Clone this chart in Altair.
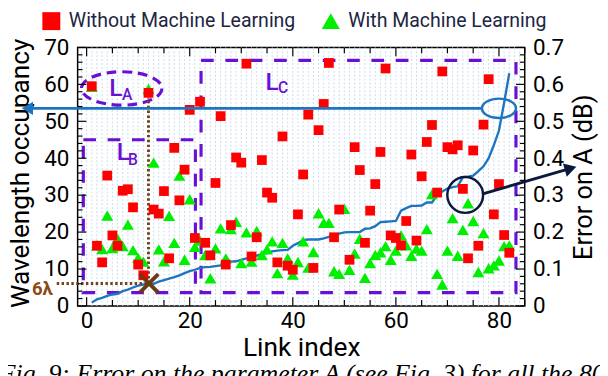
import altair as alt
import pandas as pd

# ---------------- data ----------------
link_without = list(range(1, 50)) + list(range(51, 83))
occ_without = [59.5, 16.3, 11.8, 35.3, 19.1, 16.3, 31.2, 31.6, 26.7, 11.2,
               8.3, 57.7, 26.1, 25.0, 31.1, 12.9, 42.8, 28.6, 36.9, 53.1,
               18.4, 55.3, 17.1, 13.7, 33.3, 51.4, 11.2, 21.9, 40.2, 38.8,
               65.6, 13.4, 18.6, 39.5, 30.7, 29.3, 11.8, 45.9, 10.9, 9.8,
               24.8, 35.6, 51.8, 10.3, 47.6, 54.7, 65.8, 18.6, 26.1,
               12.5, 43.0, 36.8, 17.1, 25.8, 33.0, 41.7, 64.3, 19.1, 18.4,
               16.4, 23.0, 41.0, 17.7, 35.1, 44.4, 49.0, 30.7, 63.5, 43.0,
               42.4, 43.5, 31.7, 12.9, 42.1, 16.3, 49.1, 61.4, 24.8, 33.0,
               19.2, 14.4]
link_with = list(range(1, 83))
occ_with = [59.3, 16.5, 15.4, 24.5, 15.7, 18.2, 16.2, 22.0, 15.1, 13.0,
            12.0, 58.8, 38.8, 15.3, 12.1, 24.4, 17.1, 35.3, 12.5, 28.9,
            16.0, 17.7, 13.8, 7.5, 15.6, 21.0, 12.9, 20.8, 22.8, 11.6,
            19.9, 12.0, 20.3, 13.8, 15.3, 17.5, 8.9, 17.1, 12.9, 8.5,
            11.9, 17.5, 10.4, 14.6, 25.1, 22.5, 22.5, 9.4, 8.7, 26.3,
            9.8, 14.2, 18.2, 7.6, 11.6, 13.8, 14.5, 16.2, 12.5, 15.0,
            19.1, 16.4, 13.6, 15.5, 15.0, 20.8, 30.3, 8.7, 5.8, 15.0,
            23.8, 13.6, 20.6, 27.8, 23.0, 9.2, 19.7, 10.2, 11.0, 12.3,
            16.2, 16.4]
link_error = list(range(1, 83))
error_db = [0.009, 0.018, 0.022, 0.027, 0.031, 0.033, 0.040, 0.044, 0.050, 0.055,
            0.058, 0.059, 0.060, 0.066, 0.070, 0.074, 0.078, 0.083, 0.089, 0.094,
            0.098, 0.103, 0.105, 0.106, 0.108, 0.110, 0.119, 0.120, 0.121, 0.125,
            0.129, 0.132, 0.136, 0.140, 0.144, 0.148, 0.150, 0.151, 0.152, 0.163,
            0.170, 0.178, 0.180, 0.180, 0.180, 0.183, 0.187, 0.192, 0.196, 0.199,
            0.200, 0.200, 0.200, 0.209, 0.210, 0.216, 0.227, 0.228, 0.229, 0.230,
            0.258, 0.265, 0.271, 0.271, 0.272, 0.280, 0.280, 0.300, 0.310, 0.318,
            0.322, 0.324, 0.349, 0.350, 0.353, 0.365, 0.378, 0.400, 0.435, 0.475,
            0.550, 0.630]

series_names = ["Without Machine Learning", "With Machine Learning"]
x_tick_labels = [0, 20, 40, 60, 80]
y_tick_labels = [0, 10, 20, 30, 40, 50, 60, 70]
y2_tick_labels = [0, 0.1, 0.2, 0.3, 0.4, 0.5, 0.6, 0.7]
caption_text = "Fig. 9: Error on the parameter A (see Fig. 3) for all the 80"

# annotation geometry (data units)
boxes = pd.DataFrame({"name": ["LB", "LC"], "x1": [-0.64, 22.2], "x2": [21.1, 83.3],
                      "y1": [3.6, 3.6], "y2": [45.0, 66.5]})
labels_L = pd.DataFrame({"x": [5.66, 7.1, 36.0], "y": [59.0, 41.5, 60.6], "t": ["L", "L", "L"]})
labels_sub = pd.DataFrame({"x": [7.85, 9.0, 38.1], "y": [57.0, 39.5, 59.0], "t": ["A", "B", "C"]})

# ---------------- layout ----------------
W, H = 459.2, 265.5
PURPLE = "#6a0fd4"
BLUE = "#1f74c0"
NAVY = "#0b1a3c"
BROWN = "#74431a"
FONT = "Roboto"

xs = alt.Scale(domain=[-1.75, 85], nice=False, zero=False)
ys = alt.Scale(domain=[0, 70], nice=False, zero=False)
ys2 = alt.Scale(domain=[0, 0.7], nice=False, zero=False)

axis_x = alt.Axis(values=x_tick_labels, ticks=False, domain=False, grid=False,
                  labelFont=FONT, labelFontSize=23, labelColor="black", labelPadding=4,
                  title="Link index", titleFont=FONT, titleFontSize=27, titleFontWeight="normal",
                  titleColor="black", titleX=W / 2, titleY=43, titleAlign="center",
                  titleBaseline="middle")
axis_y = alt.Axis(values=y_tick_labels, ticks=False, domain=False, grid=False, orient="left",
                  labelFont=FONT, labelFontSize=23, labelColor="black", labelPadding=9,
                  title="Wavelength occupancy", titleFont=FONT, titleFontSize=27,
                  titleFontWeight="normal", titleColor="black", titleX=-58, titleY=H / 2 - 4,
                  titleAngle=270, titleAlign="center", titleBaseline="middle")
axis_y2 = alt.Axis(values=y2_tick_labels, ticks=False, domain=False, grid=False, orient="right",
                   labelExpr="datum.value == 0 ? '0' : format(datum.value, '.1f')",
                   labelFont=FONT, labelFontSize=23, labelColor="black", labelPadding=8,
                   title="Error on A (dB)", titleFont=FONT, titleFontSize=26,
                   titleFontWeight="normal", titleColor="black", titleX=61, titleY=H / 2,
                   titleAngle=270, titleAlign="center", titleBaseline="middle")

def X(f):
    return alt.X(f, type="quantitative", scale=xs, axis=axis_x)

def Y(f, axis=axis_y):
    return alt.Y(f, type="quantitative", scale=ys, axis=axis)

# ---------------- bottom group: grid + boxes ----------------
grid = alt.Chart(pd.DataFrame({"g": list(range(-1, 85))})).mark_rule(
    color="#c4dcf1", strokeWidth=1, strokeDash=[2, 2]
).encode(x=X("g"), y=alt.value(0), y2=alt.value(H))

box_layer = alt.Chart(boxes).mark_rect(
    filled=False, stroke=PURPLE, strokeWidth=3.2, strokeDash=[13, 12]
).encode(x=X("x1"), x2="x2", y=Y("y1", None), y2="y2")

bottom = alt.layer(grid, box_layer)

# ---------------- error line (right axis) ----------------
err_df = pd.DataFrame({"link": link_error, "err": error_db})
err_line = alt.Chart(err_df).mark_line(color=BLUE, strokeWidth=2.4).encode(
    x=X("link"), y=alt.Y("err:Q", scale=ys2, axis=axis_y2))

# ---------------- top group ----------------
pts = pd.DataFrame({
    "link": link_with + link_without,
    "occ": occ_with + occ_without,
    "series": [series_names[1]] * len(link_with) + [series_names[0]] * len(link_without),
})
legend = alt.Legend(orient="none", legendX=-37, legendY=-37, direction="horizontal", title=None,
                    labelFont=FONT, labelFontSize=20, labelColor="#1c2541", symbolSize=340,
                    labelOffset=8, columnPadding=26, padding=0, symbolStrokeWidth=0,
                    labelLimit=0)
points = alt.Chart(pts).mark_point(filled=True, opacity=1).encode(
    x=X("link"), y=Y("occ"),
    color=alt.Color("series:N", scale=alt.Scale(domain=series_names, range=["#ff0000", "#00ee00"]),
                    legend=legend),
    shape=alt.Shape("series:N", scale=alt.Scale(domain=series_names, range=["square", "triangle-up"]),
                    legend=legend),
    size=alt.condition(alt.datum.series == series_names[0], alt.value(100), alt.value(150)),
)

k = 0.5523
def ellipse_path(r):
    return (f"M1,0C1,{k*r:.4f} {k},{r} 0,{r}C{-k},{r} -1,{k*r:.4f} -1,0"
            f"C-1,{-k*r:.4f} {-k},{-r} 0,{-r}C{k},{-r} 1,{-k*r:.4f} 1,0Z")

ell_LA = alt.Chart(pd.DataFrame({"x": [6.8], "y": [58.9]})).mark_point(
    shape=ellipse_path(0.415), size=82.6 ** 2, filled=False, stroke=PURPLE, strokeWidth=3.2,
    strokeDash=[10, 6], opacity=1
).encode(x=X("x"), y=Y("y"))

brown_v = alt.Chart(pd.DataFrame({"x": [12.0], "y1": [6.1], "y2": [56.4]})).mark_rule(
    color=BROWN, strokeWidth=3, strokeDash=[2.5, 2.5]).encode(x=X("x"), y=Y("y1"), y2="y2")
brown_h = alt.Chart(pd.DataFrame({"x1": [-5.8], "x2": [12.0], "y": [6.1]})).mark_rule(
    color=BROWN, strokeWidth=3, strokeDash=[2.5, 2.5]).encode(x=X("x1"), x2="x2", y=Y("y"))
cross = alt.Chart(pd.DataFrame({"x": [12.1], "y": [6.1]})).mark_point(
    shape="M-1,-1L1,1M-1,1L1,-1", size=361, filled=False, stroke="#6b3a12", strokeWidth=4,
    opacity=1).encode(x=X("x"), y=Y("y"))
six_lambda = alt.Chart(pd.DataFrame({"x": [-8.6], "y": [4.6], "t": ["6λ"]})).mark_text(
    font=FONT, fontSize=19, fontWeight="bold", color="#8a4b14", align="center", baseline="middle"
).encode(x=X("x"), y=Y("y"), text="t:N")

txt_L = alt.Chart(labels_L).mark_text(font=FONT, fontSize=25, fontWeight=500, color=PURPLE,
                                      align="center", baseline="middle").encode(
    x=X("x"), y=Y("y"), text="t:N")
txt_sub = alt.Chart(labels_sub).mark_text(font=FONT, fontSize=16, fontWeight=500, color=PURPLE,
                                          align="center", baseline="middle").encode(
    x=X("x"), y=Y("y"), text="t:N")

blue_arrow = alt.Chart(pd.DataFrame({"x1": [-11.5], "x2": [76.7], "y": [53.5]})).mark_rule(
    color=BLUE, strokeWidth=3).encode(x=X("x1"), x2="x2", y=Y("y"))
blue_head = alt.Chart(pd.DataFrame({"x": [-11.5], "y": [53.5]})).mark_point(
    shape="triangle-left", size=180, filled=True, color=BLUE, opacity=1).encode(x=X("x"), y=Y("y"))
blue_ell = alt.Chart(pd.DataFrame({"x": [80.0], "y": [53.5]})).mark_point(
    shape=ellipse_path(0.57), size=35 ** 2, filled=False, stroke=BLUE, strokeWidth=2.5, opacity=1
).encode(x=X("x"), y=Y("y"))

navy_circle = alt.Chart(pd.DataFrame({"x": [73.45], "y": [30.05]})).mark_point(
    shape="circle", size=1350, filled=False, stroke=NAVY, strokeWidth=2.5, opacity=1
).encode(x=X("x"), y=Y("y"))
navy_arrow = alt.Chart(pd.DataFrame({"x1": [76.7], "x2": [93.9], "y1": [30.3], "y2": [37.25]})).mark_rule(
    color=NAVY, strokeWidth=3).encode(x=X("x1"), x2="x2", y=Y("y1"), y2="y2")
navy_head = alt.Chart(pd.DataFrame({"x": [93.9], "y": [37.25]})).mark_point(
    shape="triangle-right", size=200, filled=True, color=NAVY, opacity=1, angle=344
).encode(x=X("x"), y=Y("y"))

# inward tick marks on all four sides
yt = pd.DataFrame({"v": list(range(0, 71, 2))})
yt["major"] = yt["v"] % 10 == 0
xt = pd.DataFrame({"v": list(range(0, 86, 5))})
xt["major"] = xt["v"] % 20 == 0

def yticks(major, length):
    d = yt[yt["major"] == major]
    left = alt.Chart(d).mark_rule(color="black", strokeWidth=1.2).encode(
        y=Y("v"), x=alt.value(0), x2=alt.value(length))
    right = alt.Chart(d).mark_rule(color="black", strokeWidth=1.2).encode(
        y=Y("v"), x=alt.value(W - length), x2=alt.value(W))
    return [left, right]

def xticks(major, length):
    d = xt[xt["major"] == major]
    bot = alt.Chart(d).mark_rule(color="black", strokeWidth=1.2).encode(
        x=X("v"), y=alt.value(H), y2=alt.value(H - length))
    top = alt.Chart(d).mark_rule(color="black", strokeWidth=1.2).encode(
        x=X("v"), y=alt.value(0), y2=alt.value(length))
    return [bot, top]

tick_layers = yticks(True, 9) + yticks(False, 5) + xticks(True, 9) + xticks(False, 6)

caption = alt.Chart(pd.DataFrame({"t": [caption_text]})).mark_text(
    font="Liberation Serif", fontSize=26.5, fontStyle="italic", color="black", align="left",
    baseline="alphabetic").encode(x=alt.value(-80), y=alt.value(344), text="t:N")

top = alt.layer(ell_LA, brown_v, brown_h, points, cross, six_lambda, txt_L, txt_sub,
                blue_arrow, blue_head, blue_ell, navy_circle, navy_arrow, navy_head,
                *tick_layers, caption)

chart = alt.layer(bottom, err_line, top).resolve_scale(y="independent").properties(
    width=W, height=H,
    autosize=alt.AutoSizeParams(type="none"),
    padding={"left": 71.5, "top": 35.5, "right": 77.3, "bottom": 69},
).configure_view(stroke="black", strokeWidth=1.5)

chart.save("out.html", embed_options={"renderer": "svg", "actions": False})
